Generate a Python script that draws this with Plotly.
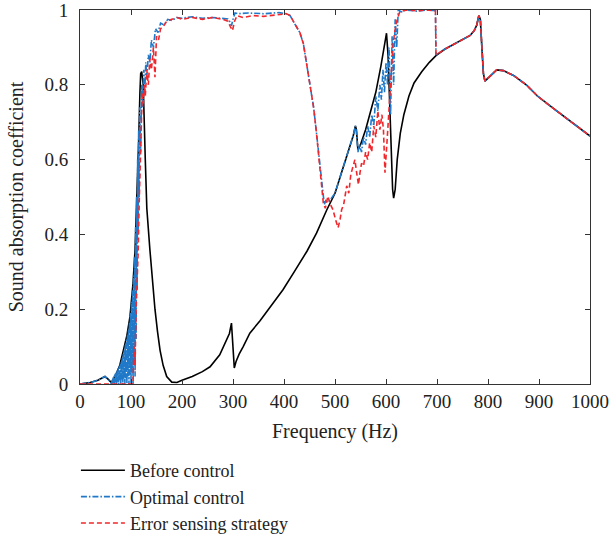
import plotly.graph_objects as go

# --- data ---
# Before control
freq_before = [0, 20, 35, 45, 49, 55, 62, 72, 78, 85, 92, 98, 104, 108, 112, 115, 117.5, 119, 121,
               124, 128, 131, 137, 142, 147, 152, 157, 163, 170, 180, 190, 200, 220, 240, 255, 274,
               288, 293, 297, 300, 302.5, 306, 312, 320, 333, 353, 375, 398, 420, 445, 464, 484, 500,
               516, 529, 536, 540, 542, 545, 550, 560, 570, 580, 590, 596, 601, 604, 607, 610, 613,
               615, 618, 622, 628, 635, 645, 655, 670, 685, 698]
alpha_before = [0, 0.004, 0.01, 0.016, 0.02, 0.013, 0.003, 0.03, 0.05, 0.09, 0.13, 0.18, 0.27, 0.36,
                0.5, 0.65, 0.78, 0.83, 0.835, 0.8, 0.6, 0.47, 0.36, 0.27, 0.2, 0.14, 0.09, 0.05, 0.02,
                0.005, 0.004, 0.01, 0.02, 0.033, 0.046, 0.078, 0.118, 0.135, 0.163, 0.11, 0.043, 0.06,
                0.08, 0.1, 0.136, 0.169, 0.21, 0.252, 0.3, 0.355, 0.404, 0.466, 0.51, 0.58, 0.635,
                0.665, 0.69, 0.68, 0.625, 0.64, 0.68, 0.73, 0.78, 0.85, 0.895, 0.938, 0.88, 0.74, 0.6,
                0.52, 0.497, 0.52, 0.6, 0.67, 0.72, 0.77, 0.805, 0.835, 0.86, 0.878]

# high frequency part, common to all three curves
freq_tail = [715, 735, 750, 765, 773, 778, 782, 785, 788, 791, 794, 800, 808, 817, 830, 850, 875,
             897, 925, 950, 975, 1000]
alpha_tail = [0.895, 0.91, 0.92, 0.932, 0.945, 0.96, 0.985, 0.975, 0.9, 0.83, 0.81, 0.818, 0.83,
              0.84, 0.838, 0.825, 0.8, 0.77, 0.74, 0.715, 0.69, 0.663]

# Optimal control
freq_opt = [0, 20, 35, 45, 49, 55, 60,
            62, 63, 64, 65, 66, 67, 68, 69, 70, 71, 72, 73, 74, 75, 76, 77, 78, 79, 80, 81, 82, 83,
            84, 85, 86, 87, 88, 89, 90, 91, 92, 93, 94, 95, 96, 97, 98, 99, 100, 101, 102, 103, 104,
            105, 106, 107, 108, 109, 110, 111, 112, 113, 114, 115, 116, 117,
            119, 121, 123, 125, 127,
            129, 131, 134, 137, 140, 144, 148, 153, 158, 165, 172, 180, 190, 200, 220, 240, 260,
            280, 290, 294, 297, 300, 304, 310, 330, 360, 390, 405, 412, 420, 431, 438, 445, 452,
            458, 463, 467, 471, 474, 477, 479, 482, 486, 492, 500, 516, 529, 536, 540, 542, 545,
            548, 552, 556, 560, 564, 568, 572, 576, 580, 584, 588, 591, 594, 597, 600, 603, 606,
            609, 612, 615, 618, 621, 624, 630, 640, 660, 680, 697, 698]
alpha_opt = [0, 0.004, 0.01, 0.016, 0.02, 0.013, 0.004,
             0.0, 0.012, 0.0, 0.018, 0.002, 0.022, 0.0, 0.027, 0.004, 0.032, 0.0, 0.036, 0.006,
             0.042, 0.0, 0.048, 0.008, 0.055, 0.0, 0.062, 0.01, 0.07, 0.0, 0.08, 0.012, 0.09, 0.0,
             0.105, 0.015, 0.118, 0.0, 0.13, 0.02, 0.145, 0.0, 0.165, 0.025, 0.19, 0.0, 0.22, 0.03,
             0.25, 0.0, 0.29, 0.05, 0.34, 0.02, 0.42, 0.12, 0.5, 0.25, 0.6, 0.4, 0.68, 0.5, 0.74,
             0.62, 0.8, 0.74, 0.84, 0.78,
             0.86, 0.82, 0.88, 0.86,
             0.92, 0.9, 0.95, 0.94, 0.965, 0.96, 0.975, 0.972, 0.98, 0.978, 0.982, 0.978, 0.98,
             0.978, 0.976, 0.968, 0.958, 0.975, 0.992, 0.99, 0.992, 0.99, 0.993, 0.99, 0.985, 0.965,
             0.94, 0.91, 0.85, 0.8, 0.74, 0.68, 0.627, 0.57, 0.53, 0.49, 0.48, 0.49, 0.485, 0.495,
             0.51, 0.58, 0.635, 0.665, 0.69, 0.675, 0.62, 0.64, 0.62, 0.66, 0.64, 0.69, 0.66, 0.72,
             0.69, 0.77, 0.73, 0.8, 0.76, 0.84, 0.78, 0.86, 0.8, 0.9, 0.72, 0.93, 0.8, 0.975, 0.9,
             1.0, 0.995, 1.0, 0.997, 1.0, 0.998, 0.88]

# Error sensing strategy
freq_err = [0, 50, 100, 104, 106, 108, 110, 112, 114, 116, 118, 120, 122, 124, 126, 128, 131, 134,
            137, 140, 144, 147, 150, 154, 158, 163, 170, 180, 190, 200, 220, 240, 260, 280, 290,
            295, 299, 303, 308, 320, 340, 360, 380, 400, 405, 412, 420, 431, 438, 445, 452, 458,
            463, 467, 471, 474, 477, 481, 486, 491, 496, 501, 506, 510, 513, 517, 520, 523, 527,
            531, 535, 539, 543, 546, 549, 552, 556, 560, 564, 568, 572, 576, 580, 584, 588, 592,
            595, 598, 601, 604, 608, 611, 614, 617, 621, 627, 640, 660, 680, 697, 698]
alpha_err = [0, 0, 0, 0.0, 0.1, 0.05, 0.2, 0.26, 0.35, 0.48, 0.58, 0.72, 0.78, 0.75, 0.8, 0.77,
             0.84, 0.8, 0.87, 0.84, 0.9, 0.82, 0.93, 0.92, 0.95, 0.955, 0.97, 0.975, 0.98, 0.975,
             0.98, 0.975, 0.98, 0.975, 0.97, 0.955, 0.945, 0.97, 0.985, 0.98, 0.985, 0.983, 0.987,
             0.99, 0.99, 0.985, 0.965, 0.94, 0.91, 0.85, 0.8, 0.74, 0.68, 0.627, 0.57, 0.53, 0.485,
             0.47, 0.502, 0.48, 0.466, 0.44, 0.418, 0.44, 0.466, 0.48, 0.502, 0.53, 0.51, 0.56,
             0.58, 0.6, 0.56, 0.533, 0.565, 0.59, 0.583, 0.62, 0.6, 0.645, 0.62, 0.69, 0.66, 0.73,
             0.68, 0.72, 0.68, 0.565, 0.627, 0.7, 0.78, 0.85, 0.91, 0.94, 0.97, 0.995, 1.0, 0.998,
             1.0, 0.998, 0.88]

assert len(freq_before) == len(alpha_before)
assert len(freq_opt) == len(alpha_opt)
assert len(freq_err) == len(alpha_err)
assert len(freq_tail) == len(alpha_tail)

FONT = "Liberation Serif"

fig = go.Figure()
fig.add_trace(go.Scatter(x=freq_before + freq_tail, y=alpha_before + alpha_tail,
                         mode="lines", name="Before control",
                         line=dict(color="black", width=1.6)))
fig.add_trace(go.Scatter(x=freq_opt + freq_tail, y=alpha_opt + alpha_tail,
                         mode="lines", name="Optimal control",
                         line=dict(color="#1f78c8", width=1.6, dash="6px,2px,1.5px,2px")))
fig.add_trace(go.Scatter(x=freq_err + freq_tail, y=alpha_err + alpha_tail,
                         mode="lines", name="Error sensing strategy",
                         line=dict(color="#f0282d", width=1.6, dash="5px,3px")))

axis_common = dict(showline=True, linecolor="#333", linewidth=1, mirror="ticks",
                   ticks="inside", ticklen=5, tickcolor="#333", showgrid=False,
                   zeroline=False, automargin=False, ticklabeloverflow="allow",
                   tickfont=dict(family=FONT, size=19, color="#222"))

fig.update_xaxes(range=[0, 1000], tickvals=list(range(0, 1001, 100)),
                 title=dict(text="Frequency (Hz)", font=dict(family=FONT, size=20, color="#222"),
                            standoff=13),
                 **axis_common)
fig.update_yaxes(range=[0, 1], tickvals=[0, 0.2, 0.4, 0.6, 0.8, 1],
                 ticktext=["0", "0.2", "0.4", "0.6", "0.8", "1"],
                 ticklabelstandoff=7,
                 title=dict(text="Sound absorption coefficient",
                            font=dict(family=FONT, size=20, color="#222"), standoff=15),
                 **axis_common)

fig.update_layout(
    width=610, height=546,
    margin=dict(l=80, r=20, t=10, b=162, autoexpand=False),
    plot_bgcolor="white", paper_bgcolor="white",
    font=dict(family=FONT, size=18, color="#222"),
    legend=dict(x=-0.008, y=-0.182, xanchor="left", yanchor="top",
                bgcolor="rgba(0,0,0,0)", itemwidth=44,
                font=dict(family=FONT, size=18, color="#222"),
                tracegroupgap=0),
)

# page body margin off so the figure sits at the window corner
fig.write_html("out.html", config={"displayModeBar": False},
               post_script="document.body.style.margin='0';")
